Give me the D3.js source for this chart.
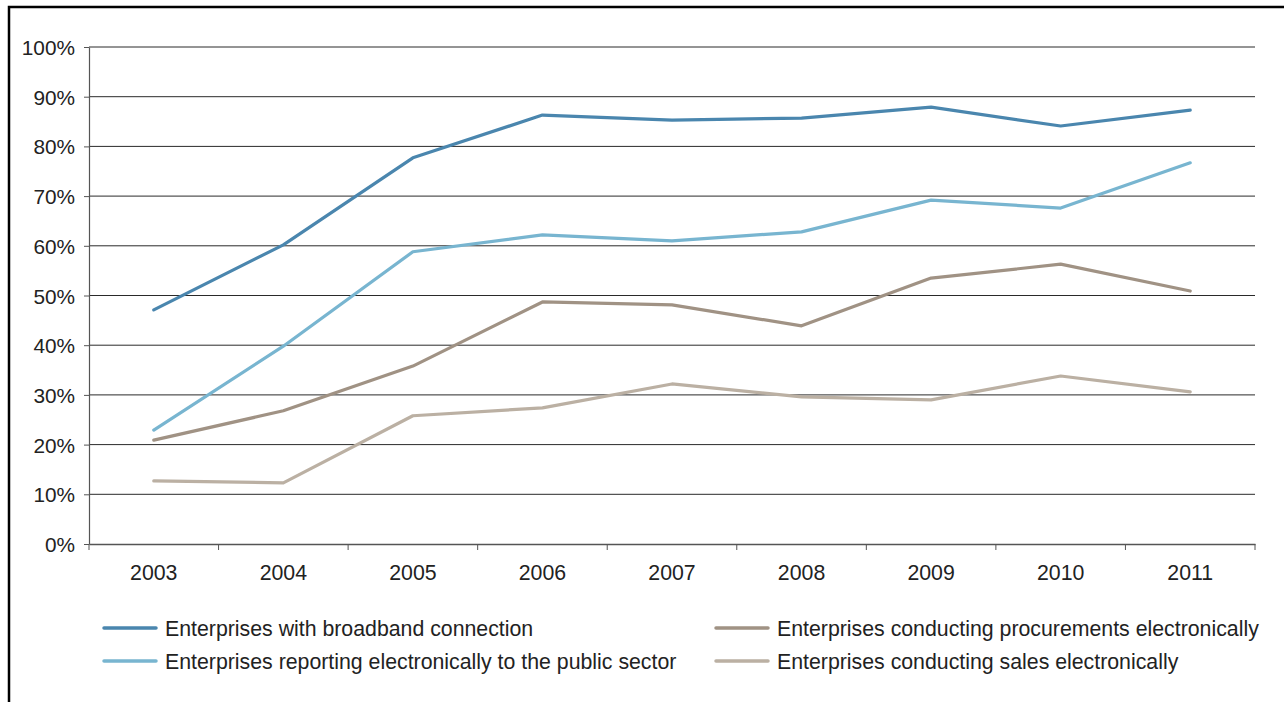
<!DOCTYPE html>
<html><head><meta charset="utf-8">
<script src="https://cdn.jsdelivr.net/npm/d3@7"></script>
<style>html,body{margin:0;padding:0;background:#fff;}svg{display:block;}</style>
</head><body>
<svg id="chart" width="1284" height="702"></svg>
<script>
const years = ["2003","2004","2005","2006","2007","2008","2009","2010","2011"];
const broadband = [47.1, 60.2, 77.7, 86.3, 85.3, 85.7, 87.9, 84.1, 87.3];
const publicSector = [22.9, 39.8, 58.8, 62.2, 61.0, 62.8, 69.2, 67.6, 76.7];
const procurement = [20.9, 26.8, 35.8, 48.7, 48.1, 43.9, 53.5, 56.3, 50.9];
const sales = [12.7, 12.3, 25.8, 27.4, 32.2, 29.6, 29.0, 33.8, 30.6];
const yTicks = [0,10,20,30,40,50,60,70,80,90,100];
const seriesNames = [
  "Enterprises with broadband connection",
  "Enterprises reporting electronically to the public sector",
  "Enterprises conducting procurements electronically",
  "Enterprises conducting sales electronically"
];
const colors = ["#4a86ae", "#78b5d0", "#a09284", "#bbb0a3"];
const seriesData = [broadband, publicSector, procurement, sales];

const svg = d3.select("#chart");
const font = "Liberation Sans, Arial, sans-serif";
const fs = 20.8;
const legendFs = 21.3;

// frame
svg.append("rect").attr("x", 9).attr("y", 7).attr("width", 1400).attr("height", 800)
  .attr("fill", "none").attr("stroke", "#000").attr("stroke-width", 2.5);

const pLeft = 89, pRight = 1255, pTop = 47, pBottom = 544;
const x = d3.scaleBand().domain(years).range([pLeft, pRight]);
const y = d3.scaleLinear().domain([0, 100]).range([pBottom, pTop]);

// gridlines
svg.append("g").selectAll("line").data(yTicks.filter(d => d > 0)).join("line")
  .attr("x1", pLeft).attr("x2", pRight)
  .attr("y1", d => y(d)).attr("y2", d => y(d))
  .attr("stroke", "#2a2a2a").attr("stroke-width", 1);

// y axis
const yAxis = svg.append("g").attr("transform", `translate(${pLeft},0)`)
  .call(d3.axisLeft(y).tickValues(yTicks).tickFormat(d => d + "%").tickSize(5).tickSizeOuter(0));
yAxis.select(".domain").attr("stroke", "#555").attr("stroke-width", 1.2);
yAxis.selectAll(".tick line").attr("stroke", "#555");
yAxis.selectAll("text").attr("font-family", font).attr("font-size", fs).attr("fill", "#222").attr("x", -14).attr("dy", "0.36em");

// x axis
const xAxis = svg.append("g").attr("transform", `translate(0,${pBottom})`)
  .call(d3.axisBottom(x).tickSize(0).tickSizeOuter(0));
xAxis.select(".domain").attr("stroke", "#555").attr("stroke-width", 1.5);
xAxis.selectAll("text").attr("font-family", font).attr("font-size", 21.3).attr("fill", "#222").attr("dy", "0").attr("y", 36);
// boundary ticks
const bounds = years.map(d => x(d)).concat([pRight]);
svg.append("g").selectAll("line").data(bounds).join("line")
  .attr("x1", d => d).attr("x2", d => d).attr("y1", pBottom).attr("y2", pBottom + 6)
  .attr("stroke", "#555").attr("stroke-width", 1);

// lines
const line = d3.line().x((d, i) => x(years[i]) + x.bandwidth() / 2).y(d => y(d));
seriesData.forEach((s, k) => {
  svg.append("path").datum(s).attr("d", line)
    .attr("fill", "none").attr("stroke", colors[k]).attr("stroke-width", 3.2)
    .attr("stroke-linecap", "round").attr("stroke-linejoin", "round");
});

// legend
const legendPos = [[104, 628], [104, 661], [716, 628], [716, 661]];
seriesNames.forEach((name, k) => {
  const [lx, ly] = legendPos[k];
  svg.append("line").attr("x1", lx).attr("x2", lx + 52).attr("y1", ly).attr("y2", ly)
    .attr("stroke", colors[k]).attr("stroke-width", 3.5).attr("stroke-linecap", "round");
  svg.append("text").attr("x", lx + 61).attr("y", ly + 8)
    .attr("font-family", font).attr("font-size", legendFs).attr("fill", "#222").text(name);
});
</script>
</body></html>
